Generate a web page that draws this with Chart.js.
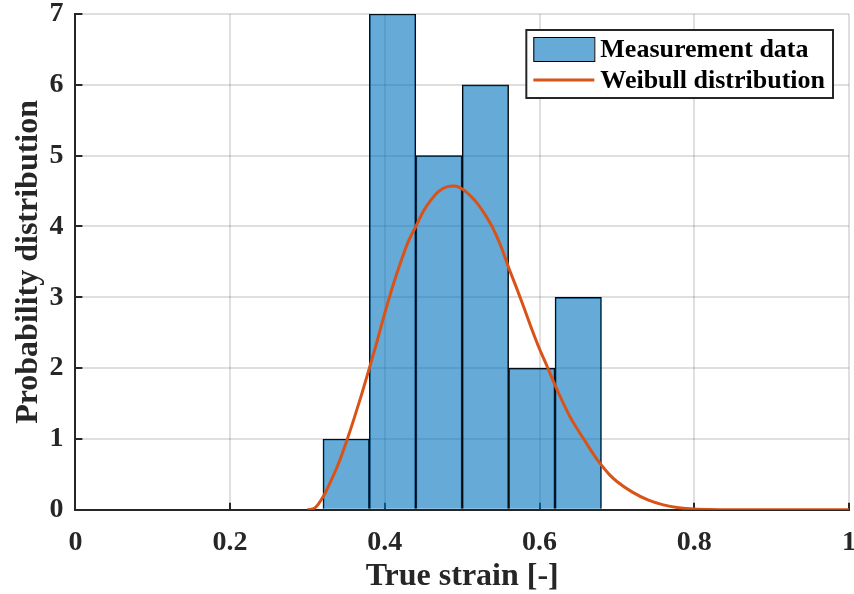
<!DOCTYPE html>
<html>
<head>
<meta charset="utf-8">
<script src="https://cdn.jsdelivr.net/npm/chart.js@4.4.1/dist/chart.umd.min.js"></script>
<style>
  html, body { margin: 0; padding: 0; background: #ffffff; }
  #wrap { width: 854px; height: 594px; }
</style>
</head>
<body>
<div id="wrap"><canvas id="c" width="854" height="594"></canvas></div>
<script>
// ---- Data ----
const binEdges = [0.32, 0.38, 0.44, 0.50, 0.56, 0.62, 0.68];
const binCounts = [1, 7, 5, 6, 2, 3];

const curveX = [0.30, 0.31, 0.32, 0.33, 0.34, 0.35, 0.36, 0.37, 0.38, 0.39,
                0.40, 0.41, 0.42, 0.43, 0.44, 0.45, 0.46, 0.47, 0.48, 0.49,
                0.50, 0.51, 0.52, 0.53, 0.54, 0.55, 0.56, 0.57, 0.58, 0.59,
                0.60, 0.61, 0.62, 0.63, 0.64, 0.65, 0.66, 0.67, 0.68, 0.69,
                0.70, 0.72, 0.74, 0.76, 0.78, 0.80, 0.82, 0.85, 0.90, 0.95, 1.00];
const curveY = [0.00, 0.03, 0.18, 0.40, 0.65, 0.95, 1.28, 1.63, 2.00, 2.38,
                2.78, 3.15, 3.48, 3.78, 4.00, 4.22, 4.38, 4.50, 4.56, 4.57,
                4.53, 4.44, 4.32, 4.16, 3.97, 3.72, 3.42, 3.14, 2.85, 2.55,
                2.27, 2.02, 1.76, 1.52, 1.30, 1.12, 0.95, 0.78, 0.63, 0.50,
                0.40, 0.25, 0.14, 0.07, 0.03, 0.01, 0.003, 0.00, 0.00, 0.00, 0.00];

const xTickValues = [0, 0.2, 0.4, 0.6, 0.8, 1];
const xTickLabels = ['0', '0.2', '0.4', '0.6', '0.8', '1'];
const yTickValues = [0, 1, 2, 3, 4, 5, 6, 7];
const yTickLabels = ['0', '1', '2', '3', '4', '5', '6', '7'];

const seriesLabels = ['Measurement data', 'Weibull distribution'];
const xTitle = 'True strain [-]';
const yTitle = 'Probability distribution';

// ---- Build library data from the arrays ----
const barPoints = binCounts.map((c, i) => ({ x: (binEdges[i] + binEdges[i + 1]) / 2, y: c }));
const curvePoints = curveX.map((x, i) => ({ x: x, y: curveY[i] }));

const FONT = "'Liberation Serif', 'Times New Roman', serif";
const AXIS_COLOR = '#262626';
const GRID_COLOR = 'rgba(38,38,38,0.15)';

// inward tick marks (MATLAB style)
const inwardTicks = {
  id: 'inwardTicks',
  beforeDatasetsDraw(chart) {
    const { ctx, chartArea, scales } = chart;
    ctx.save();
    ctx.strokeStyle = AXIS_COLOR;
    ctx.lineWidth = 2;
    ctx.beginPath();
    xTickValues.forEach(v => {
      const px = Math.round(scales.x.getPixelForValue(v));
      ctx.moveTo(px, chartArea.bottom);
      ctx.lineTo(px, chartArea.bottom - 7);
    });
    yTickValues.forEach(v => {
      const py = Math.round(scales.y.getPixelForValue(v));
      ctx.moveTo(chartArea.left, py);
      ctx.lineTo(chartArea.left + 7, py);
    });
    ctx.stroke();
    ctx.restore();
  }
};

// boxed legend (MATLAB style)
const boxLegend = {
  id: 'boxLegend',
  afterDraw(chart) {
    const { ctx, chartArea } = chart;
    const ds = chart.data.datasets;
    ctx.save();
    ctx.font = "bold 26px " + FONT;
    const textW = Math.max(...ds.map(d => ctx.measureText(d.label).width));
    const boxRight = chartArea.right - 16;
    const boxTop = chartArea.top + 16;
    const swatchW = 61;
    const boxW = 7 + swatchW + 6 + textW + 8;
    const boxH = 68;
    const boxLeft = boxRight - boxW;
    ctx.fillStyle = '#ffffff';
    ctx.fillRect(boxLeft, boxTop, boxW, boxH);
    ctx.strokeStyle = AXIS_COLOR;
    ctx.lineWidth = 2;
    ctx.strokeRect(boxLeft, boxTop, boxW, boxH);
    // entry 1: bar swatch
    const sx = boxLeft + 7;
    ctx.fillStyle = ds[0].backgroundColor;
    ctx.fillRect(sx, boxTop + 7, swatchW, 24);
    ctx.strokeStyle = '#000';
    ctx.lineWidth = 1;
    ctx.strokeRect(sx + 0.5, boxTop + 7.5, swatchW, 24);
    // entry 2: line swatch
    ctx.strokeStyle = ds[1].borderColor;
    ctx.lineWidth = 3;
    ctx.beginPath();
    ctx.moveTo(sx, boxTop + 50);
    ctx.lineTo(sx + swatchW, boxTop + 50);
    ctx.stroke();
    // texts
    ctx.fillStyle = '#000';
    ctx.textBaseline = 'alphabetic';
    ctx.textAlign = 'left';
    ctx.fillText(ds[0].label, sx + swatchW + 6, boxTop + 27);
    ctx.fillText(ds[1].label, sx + swatchW + 6, boxTop + 58);
    ctx.restore();
  }
};

new Chart(document.getElementById('c'), {
  type: 'bar',
  data: {
    datasets: [
      {
        type: 'bar',
        label: seriesLabels[0],
        data: barPoints,
        backgroundColor: 'rgba(0,114,189,0.6)',
        borderColor: '#000000',
        borderWidth: 1,
        borderSkipped: 'bottom',
        barPercentage: 1.0,
        categoryPercentage: 1.0,
        order: 2
      },
      {
        type: 'line',
        label: seriesLabels[1],
        data: curvePoints,
        borderColor: '#D95319',
        backgroundColor: '#D95319',
        borderWidth: 3,
        pointRadius: 0,
        cubicInterpolationMode: 'monotone',
        fill: false,
        order: 1
      }
    ]
  },
  options: {
    responsive: false,
    animation: false,
    devicePixelRatio: 1,
    layout: { padding: { top: 0, right: 0, left: 10, bottom: 0 } },
    plugins: {
      legend: { display: false },
      tooltip: { enabled: false }
    },
    scales: {
      x: {
        type: 'linear',
        min: 0,
        max: 1,
        offset: false,
        grid: { offset: false, color: GRID_COLOR, lineWidth: 2, drawTicks: false },
        border: { color: AXIS_COLOR, width: 2 },
        afterBuildTicks: (axis) => { axis.ticks = xTickValues.map(v => ({ value: v })); },
        afterFit: (axis) => { axis.paddingLeft = 0; axis.paddingRight = 5; },
        ticks: {
          color: '#262626',
          font: { family: FONT, size: 28, weight: 'bold' },
          padding: 16,
          maxRotation: 0,
          callback: (v) => xTickLabels[xTickValues.indexOf(v)] ?? ''
        },
        title: {
          display: true,
          text: xTitle,
          color: '#262626',
          font: { family: FONT, size: 32, weight: 'bold', lineHeight: 1.05 },
          padding: { top: -15, bottom: 0 }
        }
      },
      y: {
        type: 'linear',
        min: 0,
        max: 7,
        grid: { color: GRID_COLOR, lineWidth: 2, drawTicks: false },
        border: { color: AXIS_COLOR, width: 2 },
        afterBuildTicks: (axis) => { axis.ticks = yTickValues.map(v => ({ value: v })); },
        afterFit: (axis) => { axis.paddingTop = 14; axis.paddingBottom = 0; },
        ticks: {
          color: '#262626',
          font: { family: FONT, size: 28, weight: 'bold' },
          padding: 12,
          callback: (v) => yTickLabels[yTickValues.indexOf(v)] ?? ''
        },
        title: {
          display: true,
          text: yTitle,
          color: '#262626',
          font: { family: FONT, size: 32, weight: 'bold' },
          padding: { top: 0, bottom: -11 }
        }
      }
    }
  },
  plugins: [inwardTicks, boxLegend]
});
</script>
</body>
</html>
